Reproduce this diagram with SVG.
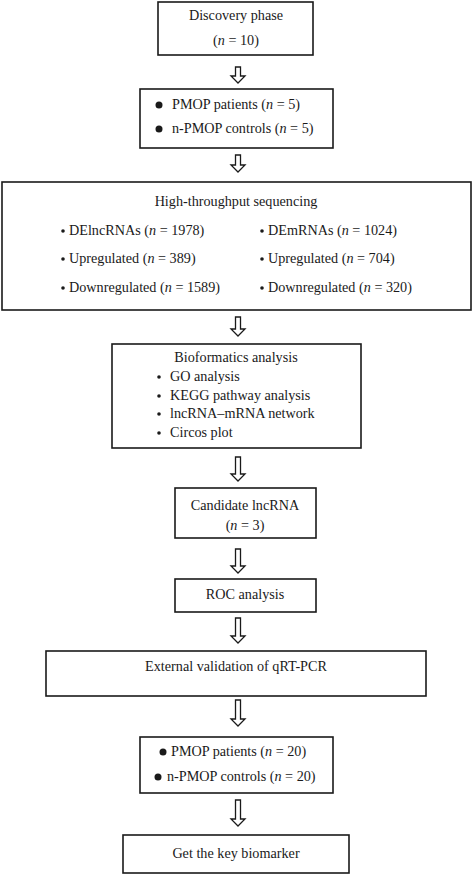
<svg xmlns="http://www.w3.org/2000/svg" width="473" height="875" viewBox="0 0 473 875">
<style>
.box{fill:#fff;stroke:#1a1a1a;stroke-width:1.6}
.t{font-family:"Liberation Serif","Times New Roman",serif;font-size:14.2px;fill:#1a1a1a}
.c{text-anchor:middle}
.arr{fill:#fff;stroke:#1a1a1a;stroke-width:1.3;stroke-linejoin:miter}
.big{fill:#1a1a1a}
</style>
<rect width="473" height="875" fill="#fff"/>
<g id="connectors">
<path class="arr" d="M235.5,67 H240.5 V76 H245 L238,83 L231,76 H235.5 Z"/>
<path class="arr" d="M235.5,155 H240.5 V165 H245 L238,172 L231,165 H235.5 Z"/>
<path class="arr" d="M235.5,317 H240.5 V329 H245 L238,336 L231,329 H235.5 Z"/>
<path class="arr" d="M235.5,457 H240.5 V474 H245 L238,481 L231,474 H235.5 Z"/>
<path class="arr" d="M235.5,549 H240.5 V566 H245 L238,573 L231,566 H235.5 Z"/>
<path class="arr" d="M235.5,618 H240.5 V636 H245 L238,643 L231,636 H235.5 Z"/>
<path class="arr" d="M235.5,700 H240.5 V719 H245 L238,726 L231,719 H235.5 Z"/>
<path class="arr" d="M235.5,800 H240.5 V819 H245 L238,826 L231,819 H235.5 Z"/>
</g>
<g id="n1">
<rect class="box" x="158" y="2" width="155" height="53"/>
<text class="t c" x="236" y="20">Discovery phase</text>
<text class="t c" x="236" y="45">(<tspan font-style="italic">n</tspan> = 10)</text>
</g>
<g id="n2">
<rect class="box" x="140" y="89" width="193" height="59"/>
<circle class="big" cx="159" cy="105" r="3.5"/>
<text class="t" x="172" y="109">PMOP patients (<tspan font-style="italic">n</tspan> = 5)</text>
<circle class="big" cx="159" cy="129" r="3.5"/>
<text class="t" x="172" y="133">n-PMOP controls (<tspan font-style="italic">n</tspan> = 5)</text>
</g>
<g id="n3">
<rect class="box" x="2" y="182" width="469" height="128"/>
<text class="t c" x="236" y="206">High-throughput sequencing</text>
<circle class="big" cx="63" cy="231" r="1.8"/>
<text class="t" x="69" y="235">DElncRNAs (<tspan font-style="italic">n</tspan> = 1978)</text>
<circle class="big" cx="63" cy="259" r="1.8"/>
<text class="t" x="69" y="263">Upregulated (<tspan font-style="italic">n</tspan> = 389)</text>
<circle class="big" cx="63" cy="288" r="1.8"/>
<text class="t" x="69" y="292">Downregulated (<tspan font-style="italic">n</tspan> = 1589)</text>
<circle class="big" cx="262" cy="231" r="1.8"/>
<text class="t" x="268" y="235">DEmRNAs (<tspan font-style="italic">n</tspan> = 1024)</text>
<circle class="big" cx="262" cy="259" r="1.8"/>
<text class="t" x="268" y="263">Upregulated (<tspan font-style="italic">n</tspan> = 704)</text>
<circle class="big" cx="262" cy="288" r="1.8"/>
<text class="t" x="268" y="292">Downregulated (<tspan font-style="italic">n</tspan> = 320)</text>
</g>
<g id="n4">
<rect class="box" x="112" y="344" width="249" height="104"/>
<text class="t c" x="236" y="362">Bioformatics analysis</text>
<circle class="big" cx="159" cy="377" r="1.8"/>
<text class="t" x="170" y="381">GO analysis</text>
<circle class="big" cx="159" cy="396" r="1.8"/>
<text class="t" x="170" y="400">KEGG pathway analysis</text>
<circle class="big" cx="159" cy="414" r="1.8"/>
<text class="t" x="170" y="418">lncRNA–mRNA network</text>
<circle class="big" cx="159" cy="433" r="1.8"/>
<text class="t" x="170" y="437">Circos plot</text>
</g>
<g id="n5">
<rect class="box" x="175" y="488" width="141" height="50"/>
<text class="t c" x="245" y="510">Candidate lncRNA</text>
<text class="t c" x="245" y="530">(<tspan font-style="italic">n</tspan> = 3)</text>
</g>
<g id="n6">
<rect class="box" x="175" y="579" width="141" height="33"/>
<text class="t c" x="245" y="599">ROC analysis</text>
</g>
<g id="n7">
<rect class="box" x="46" y="651" width="380" height="45"/>
<text class="t c" x="236" y="671">External validation of qRT-PCR</text>
</g>
<g id="n8">
<rect class="box" x="140" y="737" width="193" height="56"/>
<circle class="big" cx="163" cy="752" r="3.5"/>
<text class="t" x="171" y="756">PMOP patients (<tspan font-style="italic">n</tspan> = 20)</text>
<circle class="big" cx="158" cy="777" r="3.5"/>
<text class="t" x="167" y="781">n-PMOP controls (<tspan font-style="italic">n</tspan> = 20)</text>
</g>
<g id="n9">
<rect class="box" x="123" y="835" width="226" height="38"/>
<text class="t c" x="236" y="858">Get the key biomarker</text>
</g>
</svg>
